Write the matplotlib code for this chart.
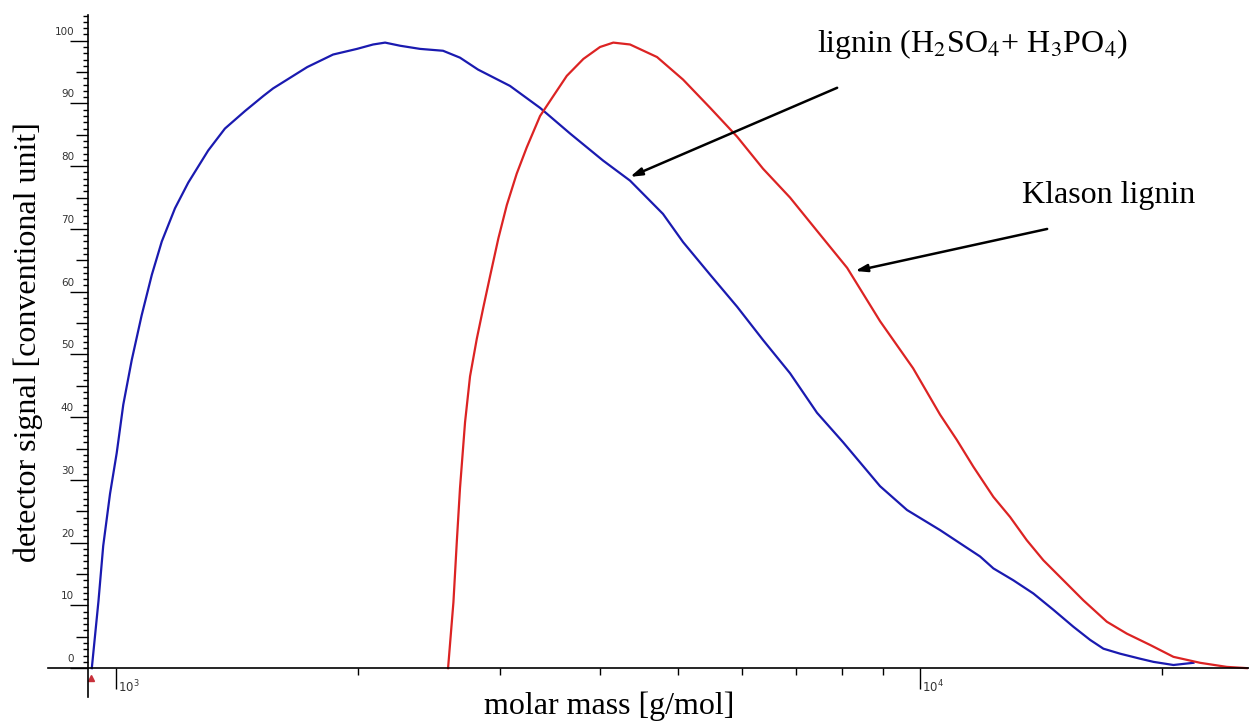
import matplotlib
matplotlib.use("Agg")
import matplotlib.pyplot as plt
import matplotlib.transforms as mtransforms
import numpy as np

# molar mass [g/mol] and detector signal
blue_mass = [933, 951, 964, 983, 1002, 1021, 1046, 1076, 1108, 1140, 1184, 1230, 1302,
             1366, 1447, 1525, 1568, 1729, 1862, 1994, 2088, 2161, 2256, 2388, 2551,
             2678, 2820, 3090, 3368, 3671, 4034, 4358, 4789, 5073, 5482, 5922, 6378,
             6891, 7444, 8022, 8917, 9634, 10590, 11213, 11874, 12335, 13062, 13832,
             14648, 15511, 16274, 16906, 17737, 18783, 19510, 20660, 21877]
blue_signal = [0, 10.7, 19.5, 27.8, 34.3, 42.0, 49.1, 56.2, 62.7, 68.0, 73.3, 77.4, 82.5,
               86.0, 88.8, 91.2, 92.4, 95.8, 97.8, 98.7, 99.4, 99.7, 99.2, 98.7, 98.4,
               97.3, 95.4, 92.8, 89.3, 85.2, 80.9, 77.7, 72.4, 67.9, 62.7, 57.6, 52.3,
               47.0, 40.7, 36.0, 29.0, 25.2, 22.0, 19.9, 17.8, 15.9, 14.0, 11.9,
               9.3, 6.6, 4.5, 3.1, 2.3, 1.5, 1.0, 0.5, 0.85]

red_mass = [2588, 2628, 2654, 2678, 2717, 2756, 2810, 2863, 2919, 2989, 3062, 3150, 3242,
            3368, 3499, 3636, 3813, 3999, 4154, 4358, 4708, 5073, 5482, 5922, 6378,
            6891, 7444, 8115, 8917, 9802, 10590, 11107, 11649, 12335, 12939, 13572,
            14233, 15075, 15965, 17071, 18077, 19322, 20660, 22300, 24066, 25491]
red_signal = [0, 10.5, 20.3, 28.7, 39.2, 46.5, 52.5, 57.5, 62.5, 68.5, 73.8, 78.8, 83.0,
              88.0, 91.2, 94.4, 97.1, 99.0, 99.7, 99.4, 97.4, 93.8, 89.3, 84.7, 79.6,
              75.0, 69.7, 63.8, 55.3, 47.8, 40.4, 36.4, 32.1, 27.3, 24.1, 20.4,
              17.2, 14.0, 10.8, 7.4, 5.5, 3.7, 1.8, 0.85, 0.2, 0]

y_major = list(range(0, 101, 5))
y_labels = list(range(0, 101, 10))
y_minor = list(range(0, 105))
x_major = [1e3, 1e4]
x_major_labels = ["$10^{3}$", "$10^{4}$"]
x_minor = [2000, 3000, 4000, 5000, 6000, 7000, 8000, 9000, 20000]

serif = ["Liberation Serif", "DejaVu Serif"]

fig = plt.figure(figsize=(12.49, 7.22), dpi=100)
ax = fig.add_axes([48 / 1249, 25 / 722, 1201 / 1249, 682 / 722])

ax.plot(blue_mass, blue_signal, color="#1a1ab0", lw=1.6)
ax.plot(red_mass, red_signal, color="#dc2323", lw=1.6)

ax.set_xscale("log")
ax.set_xlim(823, 25650)
ax.set_ylim(-4.6, 104.1)

spine_x = 923
ax.spines["top"].set_visible(False)
ax.spines["right"].set_visible(False)
ax.spines["left"].set_position(("data", spine_x))
ax.spines["bottom"].set_position(("data", 0))
for s in ["left", "bottom"]:
    ax.spines[s].set_linewidth(1.2)

ax.tick_params(axis="both", which="both", direction="out", width=1.0, color="black",
               labelleft=False, labelbottom=False)
ax.tick_params(axis="x", which="major", length=15)
ax.tick_params(axis="x", which="minor", length=5)
ax.tick_params(axis="y", which="minor", length=3.6)
ax.set_xticks(x_major)
ax.set_xticks(x_minor, minor=True)
ax.set_yticks(y_major)
ax.set_yticks(y_minor, minor=True)
ax.tick_params(axis="y", which="major", length=13)
for tick, v in zip(ax.yaxis.get_major_ticks(), y_major):
    if v % 10:
        tick.tick1line.set_markersize(8.6)

# tick labels in the small sans font of the original
ylab_tr = ax.transData + mtransforms.ScaledTranslation(-0.14, 0.09, fig.dpi_scale_trans)
for v in y_labels:
    ax.text(spine_x, v, str(v), transform=ylab_tr, ha="right", va="center",
            fontsize=7.5, color="#333333", family="DejaVu Sans")
xlab_tr = ax.transData + mtransforms.ScaledTranslation(0.02, -0.19, fig.dpi_scale_trans)
for v, lab in zip(x_major, x_major_labels):
    ax.text(v, 0, lab, transform=xlab_tr, ha="left", va="center",
            fontsize=8.5, color="#333333")

ax.plot(931, -1.6, marker="^", ms=4, color="#c8303a", clip_on=False)

fig.text(609 / 1249, 1 - 706 / 722, "molar mass [g/mol]", ha="center", va="center",
         fontsize=23, family=serif)
fig.text(28 / 1249, 1 - 342 / 722, "detector signal [conventional unit]", ha="center",
         va="center", rotation=90, fontsize=23, family=serif)

ax.text(7447, 99.4, "lignin (H$_2$SO$_4$+ H$_3$PO$_4$)", ha="left", va="center",
        fontsize=23, family=serif, math_fontfamily="stix")
ax.text(13395, 75.4, "Klason lignin", ha="left", va="center", fontsize=23, family=serif)

arrow = dict(arrowstyle="-|>,head_length=0.7,head_width=0.22", color="black", lw=1.8,
             shrinkA=0, shrinkB=0)
ax.annotate("", xy=(4358, 78.3), xytext=(7886, 92.5), arrowprops=arrow)
ax.annotate("", xy=(8302, 63.3), xytext=(14390, 70.0), arrowprops=arrow)

fig.savefig("out.png", dpi=100)
